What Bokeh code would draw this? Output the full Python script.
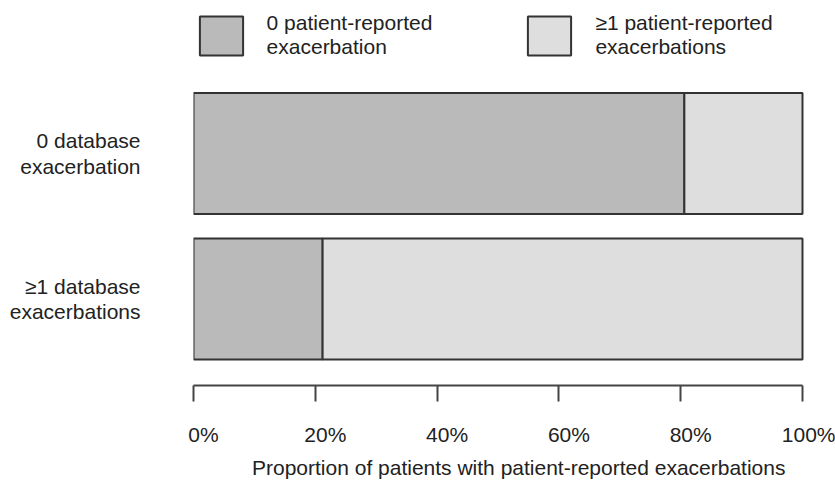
from bokeh.plotting import figure
from bokeh.models import (ColumnDataSource, Range1d, FixedTicker, Legend,
                          LegendItem, LinearAxis, Title)
from bokeh.embed import file_html
from bokeh.resources import INLINE

# ---- data ----
categories = ["0 database\nexacerbation", "\u22651 database\nexacerbations"]
zero_pr = [80.6, 21.2]      # % with 0 patient-reported exacerbation
one_plus_pr = [19.4, 78.8]  # % with >=1 patient-reported exacerbations
series_names = ["0 patient-reported\nexacerbation", "\u22651 patient-reported\nexacerbations"]
tick_values = [0, 20, 40, 60, 80, 100]
tick_labels = ["0%", "20%", "40%", "60%", "80%", "100%"]
x_title = "Proportion of patients with patient-reported exacerbations"

FONT = "Liberation Sans"
TXT = "#222222"
FS = "21px"

n = len(categories)
ypos = [n - 1 - i for i in range(n)]  # first category on top
source = ColumnDataSource(dict(y=ypos, zero=zero_pr, one=one_plus_pr))

p = figure(width=835, height=483, output_backend="svg", toolbar_location=None,
           x_range=Range1d(0, 102.135), y_range=Range1d(-0.5945, 2.0515),
           min_border_left=193, min_border_right=20, min_border_top=0,
           min_border_bottom=98, x_axis_location=None, y_axis_location=None)
p.outline_line_color = None
p.grid.visible = False
p.background_fill_color = "white"
p.border_fill_color = "white"

rs = p.hbar_stack(["zero", "one"], y="y", height=0.832, source=source,
                  fill_color=["#bababa", "#dedede"], line_color="#333333",
                  line_width=2)

# category axis
ya = LinearAxis(ticker=FixedTicker(ticks=ypos),
                major_label_overrides={y: c for y, c in zip(ypos, categories)})
ya.axis_line_color = None
ya.major_tick_line_color = None
ya.minor_tick_line_color = None
ya.major_tick_out = 0
ya.major_tick_in = 0
ya.major_label_standoff = 53
ya.major_label_text_font = FONT
ya.major_label_text_font_size = FS
ya.major_label_text_color = TXT
ya.major_label_text_line_height = 1.1
p.add_layout(ya, "left")

# x axis: line and ticks
xa = LinearAxis(ticker=FixedTicker(ticks=tick_values), bounds=(0, 100))
xa.axis_line_color = "#444444"
xa.axis_line_width = 2
xa.major_tick_line_color = "#444444"
xa.major_tick_line_width = 2
xa.major_tick_out = 16
xa.major_tick_in = 0
xa.minor_tick_line_color = None
xa.major_label_standoff = 0
xa.major_label_text_font_size = "1px"
xa.major_label_overrides = {v: "" for v in tick_values}
p.add_layout(xa, "below")

# x tick labels (drawn slightly right of their ticks, as in the original)
shift_px = 10
px_per_unit = 609 / 100
p.extra_x_ranges = {"lab": Range1d(-shift_px / px_per_unit, 102.135 - shift_px / px_per_unit)}
xl = LinearAxis(x_range_name="lab", ticker=FixedTicker(ticks=tick_values),
                major_label_overrides={v: t for v, t in zip(tick_values, tick_labels)})
xl.axis_line_color = None
xl.major_tick_line_color = None
xl.minor_tick_line_color = None
xl.major_tick_out = 0
xl.major_tick_in = 0
xl.major_label_standoff = 21
xl.major_label_text_font = FONT
xl.major_label_text_font_size = FS
xl.major_label_text_color = TXT
p.add_layout(xl, "below")

p.add_layout(Title(text=x_title, align="left", offset=58.5, standoff=10,
                   text_font=FONT, text_font_size=FS, text_font_style="normal",
                   text_color=TXT), "below")

legend = Legend(items=[LegendItem(label=series_names[0], renderers=[rs[0]]),
                       LegendItem(label=series_names[1], renderers=[rs[1]])],
                orientation="horizontal", location=(0.6, 385 - 64.1),
                glyph_width=54, glyph_height=49, label_height=58,
                label_standoff=19, spacing=90,
                padding=0, margin=0, border_line_color=None,
                background_fill_alpha=0, label_text_font=FONT,
                label_text_font_size=FS, label_text_color=TXT,
                label_text_line_height=1.05)
p.add_layout(legend, "center")

open("out.html", "w").write(file_html(p, INLINE))
